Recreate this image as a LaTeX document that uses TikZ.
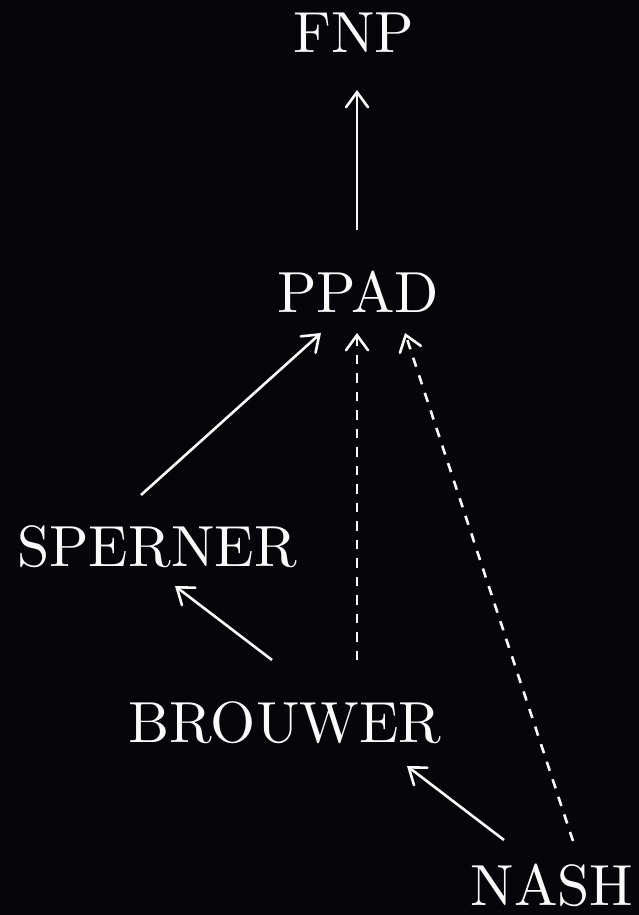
\documentclass[tikz,border=0pt]{standalone}
\usepackage{fontspec}
\setmainfont{lmroman10-regular.otf}
\usetikzlibrary{arrows.meta,calc}
\definecolor{bgdark}{RGB}{5,5,10}
\definecolor{ink}{RGB}{250,250,250}
\tikzset{
  cls/.style={anchor=base, inner sep=0pt, text=ink, font=\fontsize{58}{70}\selectfont},
  red/.style={draw=ink, line width=2.6pt, -{Straight Barb[length=15pt,width=22pt,line cap=round]}},
  weak/.style={red, dash pattern=on 9.5pt off 9pt},
}
\begin{document}
\begin{tikzpicture}[x=1pt,y=-1pt]
  \fill[bgdark] (0,0) rectangle (639,915);
  \useasboundingbox (0,0) rectangle (639,915);

  % complexity classes
  \node[cls] (fnp)     at (354,53)  {FNP};
  \node[cls] (ppad)    at (358,312) {PPAD};
  \node[cls] (sperner) at (157,566) {SPERNER};
  \node[cls] (brouwer) at (285,742) {BROUWER};
  \node[cls] (nash)    at (552,905) {NASH};

  % reductions
  \draw[red]  ($(ppad.base)+(-1,-82)$)    -- ($(fnp.base)+(3,37)$);
  \draw[red]  ($(sperner.base)+(-16,-71)$) -- ($(ppad.base)+(-37,21)$);
  \draw[red]  ($(brouwer.base)+(-13,-82)$) -- ($(sperner.base)+(18,20)$);
  \draw[weak] ($(brouwer.base)+(72,-82)$)  -- ($(ppad.base)+(-1,21)$);
  \draw[red]  ($(nash.base)+(-48,-65)$)    -- ($(brouwer.base)+(122,24)$);
  \draw[weak] ($(nash.base)+(21,-64)$)     -- ($(ppad.base)+(47,21)$);
\end{tikzpicture}
\end{document}
